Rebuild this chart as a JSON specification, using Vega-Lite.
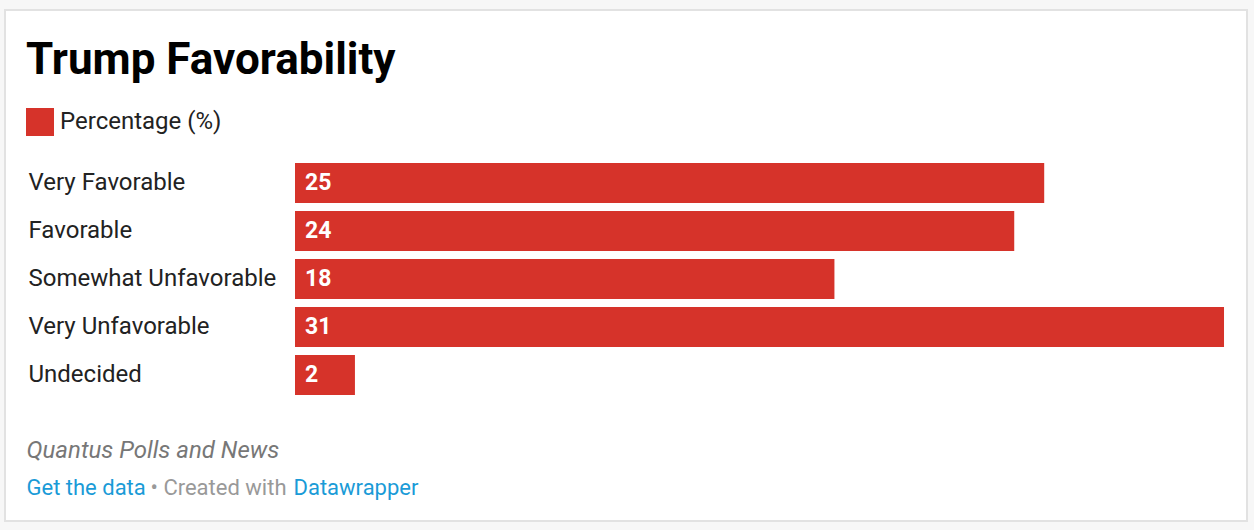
{
  "$schema": "https://vega.github.io/schema/vega-lite/v6.json",
  "autosize": "none",
  "width": 1242,
  "height": 511,
  "padding": {"left": 5, "top": 10, "right": 7, "bottom": 9},
  "background": "#f7f7f7",
  "title": {
    "text": "Trump Favorability",
    "anchor": "start",
    "frame": "group",
    "font": "Roboto",
    "fontSize": 44,
    "fontWeight": "bold",
    "color": "#000000",
    "dx": 21,
    "baseline": "alphabetic",
    "offset": -108
  },
  "data": {
    "values": [
      {"category": "Very Favorable", "value": 25, "series": "Percentage (%)"},
      {"category": "Favorable", "value": 24, "series": "Percentage (%)"},
      {"category": "Somewhat Unfavorable", "value": 18, "series": "Percentage (%)"},
      {"category": "Very Unfavorable", "value": 31, "series": "Percentage (%)"},
      {"category": "Undecided", "value": 2, "series": "Percentage (%)"}
    ]
  },
  "encoding": {
    "y": {
      "field": "category",
      "type": "nominal",
      "sort": null,
      "scale": {"range": [153, 385], "paddingInner": 0.16667, "paddingOuter": 0}
    }
  },
  "layer": [
    {
      "mark": {"type": "bar"},
      "encoding": {
        "x": {
          "field": "value",
          "type": "quantitative",
          "scale": {"domain": [-9.677, 31.767], "nice": false, "zero": false},
          "axis": {
            "orient": "bottom",
            "labels": false,
            "ticks": false,
            "domain": false,
            "grid": false,
            "title": "Quantus Polls and News",
            "titleFont": "Roboto",
            "titleFontSize": 24,
            "titleFontStyle": "italic",
            "titleFontWeight": "normal",
            "titleColor": "#777777",
            "titleAlign": "left",
            "titleBaseline": "alphabetic",
            "titleAnchor": null,
            "titleX": 21,
            "titleY": -64
          }
        },
        "x2": {"datum": 0},
        "y": {
          "field": "category",
          "type": "nominal",
          "sort": null,
          "axis": {
            "orient": "left",
            "ticks": false,
            "tickSize": 0,
            "domain": false,
            "grid": false,
            "labelAlign": "left",
            "labelBaseline": "middle",
            "labelPadding": -23,
            "labelFont": "Roboto",
            "labelFontSize": 24,
            "labelColor": "#222222",
            "labelLimit": 0,
            "title": "Get the data",
            "titleAngle": 0,
            "titleFont": "Roboto",
            "titleFontSize": 22,
            "titleFontWeight": "normal",
            "titleColor": "#1a9bd7",
            "titleAlign": "left",
            "titleBaseline": "alphabetic",
            "titleAnchor": null,
            "titleX": 21,
            "titleY": 484
          }
        },
        "color": {
          "field": "series",
          "type": "nominal",
          "scale": {"range": ["#d6332a"]},
          "legend": {
            "orient": "none",
            "legendX": 21,
            "legendY": 98,
            "title": null,
            "padding": 0,
            "symbolType": "square",
            "symbolSize": 784,
            "symbolStrokeWidth": 0,
            "symbolOpacity": 1,
            "labelFont": "Roboto",
            "labelFontSize": 24,
            "labelColor": "#222222",
            "labelOffset": 6,
            "labelLimit": 0
          }
        }
      }
    },
    {
      "mark": {"type": "text", "align": "left", "baseline": "middle", "dx": 10, "font": "Roboto", "fontSize": 23, "fontWeight": "bold", "color": "#ffffff"},
      "encoding": {
        "x": {
          "datum": 0,
          "type": "quantitative",
          "axis": {
            "orient": "top",
            "labels": false,
            "ticks": false,
            "domain": false,
            "grid": false,
            "title": "• Created with",
            "titleFont": "Roboto",
            "titleFontSize": 22,
            "titleFontWeight": "normal",
            "titleColor": "#999999",
            "titleAlign": "left",
            "titleBaseline": "alphabetic",
            "titleAnchor": null,
            "titleX": 145,
            "titleY": 484
          }
        },
        "y": {
          "field": "category",
          "type": "nominal",
          "sort": null,
          "axis": {
            "orient": "right",
            "labels": false,
            "ticks": false,
            "domain": false,
            "grid": false,
            "title": "Datawrapper",
            "titleAngle": 0,
            "titleFont": "Roboto",
            "titleFontSize": 22,
            "titleFontWeight": "normal",
            "titleColor": "#1a9bd7",
            "titleAlign": "left",
            "titleBaseline": "alphabetic",
            "titleAnchor": null,
            "titleX": -954,
            "titleY": 484
          }
        },
        "text": {"field": "value", "type": "quantitative"}
      }
    }
  ],
  "resolve": {"axis": {"x": "independent", "y": "independent"}},
  "config": {
    "view": {"fill": "#ffffff", "stroke": "#e2e2e2", "strokeWidth": 2},
    "font": "Roboto"
  }
}
